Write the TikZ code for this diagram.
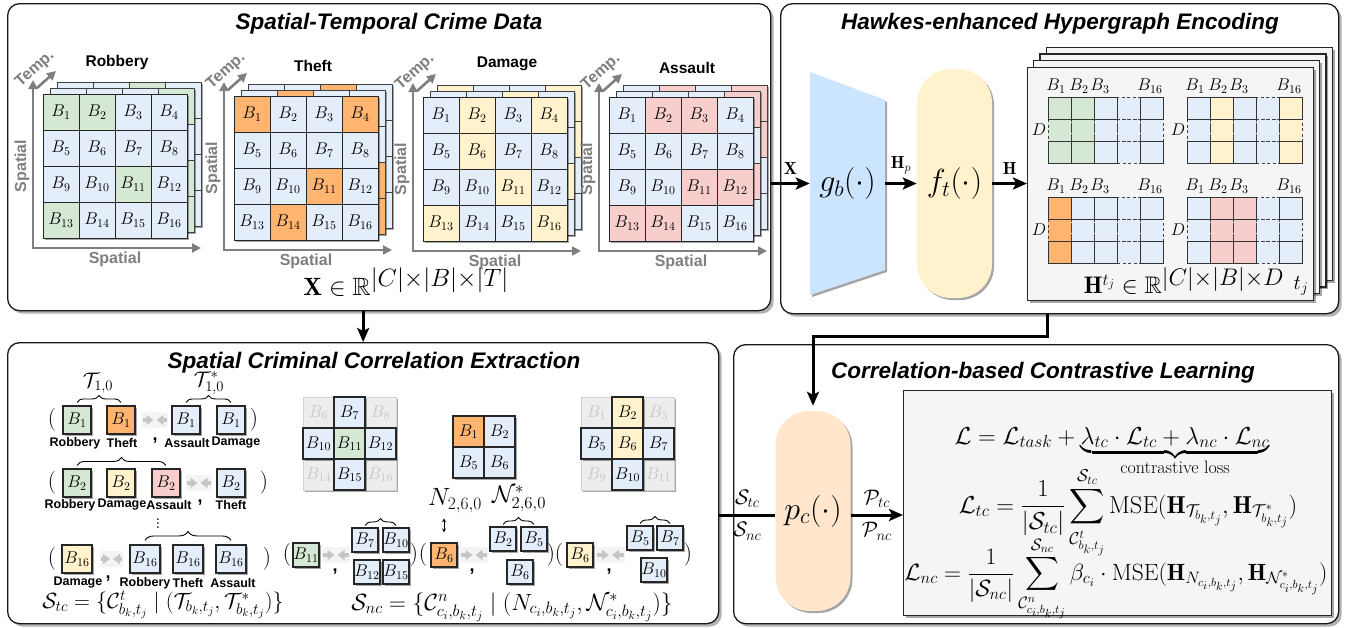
\RequirePackage{fix-cm}
\documentclass[tikz,border=0pt]{standalone}
\usepackage{fontspec}
\usepackage{amsmath,amssymb}
\newfontfamily\sansfam{Liberation Sans}
\usetikzlibrary{arrows.meta,calc,decorations.pathreplacing,shadows}

\definecolor{cblue}{HTML}{E3EEFA}
\definecolor{cgreen}{HTML}{D5E8D4}
\definecolor{corange}{HTML}{FFB570}
\definecolor{cyellow}{HTML}{FFF2CC}
\definecolor{cpink}{HTML}{F8CECC}
\definecolor{cpeach}{HTML}{FFE6CC}
\definecolor{cgb}{HTML}{CCE5FF}
\definecolor{axisgray}{HTML}{7F7F7F}
\definecolor{boxgray}{HTML}{F5F5F5}
\definecolor{fadefill}{HTML}{EDEDED}

\newcommand\fsz[1]{\fontsize{#1}{#1}\selectfont}
\newcommand\tx{\mathord{\times}}

\tikzset{
  softshadow/.style={drop shadow={shadow xshift=2pt,shadow yshift=-2pt,opacity=0.35,fill=black}},
  panel/.style={draw=black!90,line width=1.3pt,fill=white,rounded corners=12pt,inner sep=0pt,
    drop shadow={shadow xshift=3pt,shadow yshift=-3pt,opacity=0.3,fill=black}},
  ptitle/.style={font=\sansfam\bfseries\itshape\fsz{22.5},anchor=base,inner sep=0pt},
  gfill/.style={fill=cblue,softshadow},
  gline/.style={draw=black!75,line width=0.9pt},
  gcell/.style={draw=black!85,line width=1pt,minimum width=36pt,minimum height=36pt,inner sep=0pt,font=\fsz{17}},
  axisline/.style={draw=axisgray,line width=2.6pt,{Triangle[length=9pt,width=9pt]}-{Triangle[length=9pt,width=9pt]}},
  templine/.style={draw=axisgray,line width=2.6pt,-{Triangle[length=9pt,width=9pt]}},
  axislabel/.style={font=\sansfam\bfseries\fsz{16},text=axisgray,inner sep=0pt},
  gridtitle/.style={font=\sansfam\bfseries\fsz{15.5},inner sep=0pt},
  conn/.style={draw=black,line width=3pt,-{Stealth[length=14pt,width=12pt,inset=3pt]}},
  plainline/.style={draw=black,line width=3pt},
  arrlabel/.style={font=\fsz{17.5},inner sep=1pt},
  setlabel/.style={font=\fsz{21},inner sep=1pt},
  pill/.style={draw=none,rounded corners=34pt,inner sep=0pt,font=\fsz{32},softshadow},
  stacklayer/.style={draw=black!85,line width=1.2pt,fill=boxgray,softshadow},
  mdash/.style={draw=black!75,line width=0.9pt,dash pattern=on 3pt off 2.5pt},
  msolid/.style={draw=black!80,line width=1pt},
  mlabel/.style={font=\fsz{17},inner sep=0pt},
  sbox/.style={draw=black!85,line width=1.1pt,minimum width=28pt,minimum height=28pt,inner sep=0pt,font=\fsz{17},softshadow},
  wbox/.style={sbox,minimum width=30pt},
  tbox/.style={sbox,minimum width=26pt,minimum height=24pt,font=\fsz{17}},
  xbox/.style={sbox,minimum width=31pt,minimum height=31pt},
  fbox/.style={xbox,draw=gray!35,fill=fadefill,text=gray!45,line width=0.8pt},
  clabel/.style={font=\sansfam\bfseries\fsz{12.5},inner sep=0pt},
  paren/.style={font=\fsz{23},inner sep=0pt},
  commamark/.style={font=\sansfam\bfseries\fsz{18},inner sep=0pt},
  brc/.style={draw=black,line width=0.9pt,decorate,decoration={brace,amplitude=#1}},
  brc/.default=7pt,
  garrow/.style={draw=gray!45,line width=3.4pt,-{Triangle[length=7pt,width=10pt]}},
  gback/.style={fill=gray!9},
  mathlabel/.style={font=\fsz{21},inner sep=0pt},
  dblarrow/.style={draw=black,line width=1pt,{Stealth[length=4pt,width=4pt]}-{Stealth[length=4pt,width=4pt]},shorten <=5pt,shorten >=10pt},
  lossbox/.style={draw=black!85,line width=1.2pt,fill=boxgray,inner sep=0pt,softshadow},
  formula/.style={font=\fsz{24.5},inner sep=0pt,anchor=base},
}

% axes, time arrow and axis labels of one crime grid (#1,#2 = top-left corner of front layer)
\newcommand\axes[3]{%
  \draw[axisline] ({#1-10},{#2-14}) -- ({#1-10},{#2+154}) -- ({#1+158},{#2+154});
  \draw[templine] ({#1-6},{#2-6}) -- ({#1+13},{#2-23});
  \node[axislabel,rotate=42] (#3-t) at ({#1-8},{#2-25}) {Temp.};
  \node[axislabel,rotate=90] (#3-v) at ({#1-21},{#2+72}) {Spatial};
  \node[axislabel] (#3-h) at ({#1+72},{#2+165}) {Spatial};
}
% a hidden time slice behind the front grid
\newcommand\backgrid[4]{%
  \path[gfill] (#1,#2) rectangle ++(144,144);
  \foreach \r/\c in {#4}{\path[fill=#3] ({#1+(\c-1)*36},{#2+(\r-1)*36}) rectangle ++(36,36);}
  \foreach \r in {0,...,3}{\foreach \c in {0,...,3}{\path[gline] ({#1+\c*36},{#2+\r*36}) rectangle ++(36,36);}}
}
% the front time slice with its sixteen regions
\newcommand\frontgrid[5]{%
  \path[gfill] (#1,#2) rectangle ++(144,144);
  \foreach \r/\c in {#4}{\path[fill=#3] ({#1+(\c-1)*36},{#2+(\r-1)*36}) rectangle ++(36,36);}
  \foreach \r in {1,...,4}{\foreach \c in {1,...,4}{%
    \pgfmathtruncatemacro\cellno{(\r-1)*4+\c}%
    \node[gcell] (#5\cellno) at ({#1+(\c-0.5)*36},{#2+(\r-0.5)*36}) {$B_{\cellno}$};}}
}
% embedding matrix: 5 region columns x 3 feature rows
\newcommand\hmat[5]{%
  \foreach \c in {0,...,4}{\path[fill=cblue] ({#1+\c*23},#2) rectangle ++(23,66);}
  \foreach \c in {#4}{\path[fill=#3] ({#1+(\c-1)*23},#2) rectangle ++(23,66);}
  \foreach \r in {0,1,2}{\foreach \c in {0,...,4}{\path[mdash] ({#1+\c*23},{#2+\r*22}) rectangle ++(23,22);}}
  \foreach \r in {0,2}{\foreach \c in {0,1,2,4}{\path[msolid] ({#1+\c*23},{#2+\r*22}) rectangle ++(23,22);}}
  \node[mlabel] (#5b1) at ({#1+8},{#2-11}) {$B_1$};
  \node[mlabel] (#5b2) at ({#1+31},{#2-11}) {$B_2$};
  \node[mlabel] (#5b3) at ({#1+52},{#2-11}) {$B_3$};
  \node[mlabel] (#5b16) at ({#1+102},{#2-11}) {$B_{16}$};
  \node[mlabel] (#5d) at ({#1-9},{#2+33}) {$D$};
}
% pair of grey arrows pointing at each other
\newcommand\gpair[3]{%
  \coordinate (#3a) at #1;
  \coordinate (#3b) at #2;
  \path[gback] ($(#3a)+(-1,-8)$) rectangle ($(#3b)+(1,8)$);
  \coordinate (#3m) at ($(#3a)!0.5!(#3b)$);
  \draw[garrow] (#3a) -- ($(#3m)+(-1.5,0)$);
  \draw[garrow] (#3b) -- ($(#3m)+(1.5,0)$);
}

\begin{document}
\begin{tikzpicture}[x=1pt,y=-1pt]
\fill[white] (0,0) rectangle (1345,627);
\useasboundingbox (0,0) rectangle (1345,627);

% ---------- panels ----------
\node[panel,anchor=north west,minimum width=763pt,minimum height=307pt] (stdata) at (7,3) {};
\node[panel,anchor=north west,minimum width=558pt,minimum height=310pt] (hyper) at (780,3) {};
\node[panel,anchor=north west,minimum width=711pt,minimum height=281pt] (corr) at (7,342) {};
\node[panel,anchor=north west,minimum width=605pt,minimum height=279pt] (contr) at (733,344) {};

\node[ptitle] (stdata-t) at (389,29) {Spatial-Temporal Crime Data};
\node[ptitle] (hyper-t) at (1060,29) {Hawkes-enhanced Hypergraph Encoding};
\node[ptitle] (corr-t) at (374,368) {Spatial Criminal Correlation Extraction};
\node[ptitle] (contr-t) at (1043,378) {Correlation-based Contrastive Learning};

% ---------- spatial-temporal crime tensors ----------
\axes{43}{94}{rob}
\backgrid{57}{82}{cgreen}{1/3}
\backgrid{50}{88}{cgreen}{1/4,3/4,4/4}
\frontgrid{43}{94}{cgreen}{1/1,1/2,3/3,4/1}{rob}
\node[gridtitle] (rob-title) at (117,62) {Robbery};

\axes{234}{96}{thf}
\backgrid{248}{84}{corange}{1/3}
\backgrid{241}{90}{corange}{1/2,3/4,4/4}
\frontgrid{234}{96}{corange}{1/1,1/4,3/3,4/2}{thf}
\node[gridtitle] (thf-title) at (313,66) {Theft};

\axes{423}{97}{dmg}
\backgrid{437}{85}{cyellow}{1/1,1/4,2/4}
\backgrid{430}{91}{cyellow}{1/3,3/4}
\frontgrid{423}{97}{cyellow}{1/2,1/4,2/2,3/3,4/1,4/4}{dmg}
\node[gridtitle] (dmg-title) at (507,64) {Damage};

\axes{609}{97}{asl}
\backgrid{623}{85}{cpink}{1/2,1/4,2/4}
\backgrid{616}{91}{cpink}{1/4,3/4}
\frontgrid{609}{97}{cpink}{1/2,1/3,3/3,3/4,4/1,4/2}{asl}
\node[gridtitle] (asl-title) at (687,68) {Assault};

\node[font=\fsz{25},inner sep=0pt] (xform) at (406,282) {$\mathbf{X}\in\mathbb{R}^{\textstyle|C|\tx|B|\tx|T|}$};

% ---------- hypergraph encoder ----------
\path[fill=cgb,softshadow] (810,72) -- (885,100) -- (885,270) -- (810,295) -- cycle;
\node[font=\fsz{32},minimum width=75pt,minimum height=223pt,inner sep=0pt] (gb) at (847.5,183.5) {$g_b(\cdot)$};
\node[pill,fill=cyellow,minimum width=75pt,minimum height=229pt] (ft) at (954.5,183.5) {$f_t(\cdot)$};

\path[stacklayer] (1046.5,47.5) rectangle ++(286,233);
\path[stacklayer] (1040,54) rectangle ++(286,233);
\path[stacklayer] (1033.5,60.5) rectangle ++(286,233);
\node[stacklayer,anchor=north west,minimum width=286pt,minimum height=233pt,inner sep=0pt] (stack) at (1027,67) {};

\hmat{1048}{97}{cgreen}{1,2}{ha}
\hmat{1187}{97}{cyellow}{2,5}{hb}
\hmat{1048}{197}{corange}{1}{hc}
\hmat{1187}{197}{cpink}{2,3}{hd}
\node[font=\fsz{24},inner sep=0pt] (hform) at (1184,281) {$\mathbf{H}^{t_j}\in\mathbb{R}^{\textstyle|C|\tx|B|\tx D}$};
\node[mathlabel] (tjlab) at (1301,286) {$t_j$};

\draw[conn] (stdata.east |- gb.west) -- (gb.west) node[arrlabel,midway,above=7pt] (xlab) {$\mathbf{X}$};
\draw[conn] (gb.east) -- (ft.west) node[arrlabel,midway,above=7pt] (hplab) {$\mathbf{H}_p$};
\draw[conn] (ft.east) -- (stack.west |- ft.east) node[arrlabel,midway,above=7pt] (hlab) {$\mathbf{H}$};

% ---------- type correlations ----------
\node[paren] (r1l) at (52,420) {(};
\node[sbox,fill=cgreen] (t1a) at (77,420) {$B_1$};
\node[sbox,fill=corange] (t1b) at (121,420) {$B_1$};
\node[sbox,fill=cblue] (t1c) at (186,420) {$B_1$};
\node[sbox,fill=cblue] (t1d) at (231,420) {$B_1$};
\node[paren] (r1r) at (254,420) {)};
\gpair{($(t1b.east)+(7,0)$)}{($(t1c.west)+(-4,0)$)}{ga}
\draw[brc] ($(t1a.north)+(0,-3)$) -- ($(t1b.north)+(0,-3)$);
\draw[brc] ($(t1c.north)+(0,-3)$) -- ($(t1d.north)+(0,-3)$);
\node[mathlabel] (tau1) at (98,383) {$\mathcal{T}_{1,0}$};
\node[mathlabel] (tau1s) at (209,383) {$\mathcal{T}^*_{1,0}$};
\node[clabel] (r1c1) at (75,443) {Robbery};
\node[clabel] (r1c2) at (122,443) {Theft};
\node[commamark] (r1cm) at (155,441) {,};
\node[clabel] (r1c3) at (187,443) {Assault};
\node[clabel] (r1c4) at (236,443) {Damage};

\node[paren] (r2l) at (52,483) {(};
\node[sbox,fill=cgreen] (t2a) at (77,483) {$B_2$};
\node[sbox,fill=cyellow] (t2b) at (121,483) {$B_2$};
\node[sbox,fill=cpink] (t2c) at (166,483) {$B_2$};
\node[sbox,fill=cblue] (t2d) at (231,483) {$B_2$};
\node[paren] (r2r) at (264,483) {)};
\gpair{($(t2c.east)+(6,0)$)}{($(t2d.west)+(-5,0)$)}{gb2}
\draw[brc=8pt] ($(t2a.north)+(0,-3)$) -- ($(t2c.north)+(0,-3)$);
\node[clabel] (r2c1) at (70,505) {Robbery};
\node[clabel] (r2c2) at (122,505) {Damage};
\node[clabel] (r2c3) at (169,505) {Assault};
\node[commamark] (r2cm) at (200,503) {,};
\node[clabel] (r2c4) at (231,505) {Theft};

\node[font=\fsz{21},inner sep=0pt] (vdots) at (158,521) {$\vdots$};

\node[paren] (r3l) at (52,559) {(};
\node[wbox,fill=cyellow] (t3a) at (77,559) {$B_{16}$};
\node[wbox,fill=cblue] (t3b) at (145,559) {$B_{16}$};
\node[wbox,fill=cblue] (t3c) at (188,559) {$B_{16}$};
\node[wbox,fill=cblue] (t3d) at (231,559) {$B_{16}$};
\node[paren] (r3r) at (267,559) {)};
\gpair{($(t3a.east)+(8,0)$)}{($(t3b.west)+(-7,0)$)}{gc}
\draw[brc=9pt] ($(t3b.north)+(0,-4)$) -- ($(t3d.north)+(0,-4)$);
\node[clabel] (r3c1) at (78,583) {Damage};
\node[commamark] (r3cm) at (108,579) {,};
\node[clabel] (r3c2) at (145,583) {Robbery};
\node[clabel] (r3c3) at (188,583) {Theft};
\node[clabel] (r3c4) at (233,583) {Assault};

\node[font=\fsz{22},inner sep=0pt] (stc) at (163,605) {$\mathcal{S}_{tc}=\{\mathcal{C}^{t}_{b_k,t_j}\mid(\mathcal{T}_{b_k,t_j},\mathcal{T}^*_{b_k,t_j})\}$};

% ---------- neighbourhood correlations ----------
\node[fbox] (ca6) at (318.5,412.5) {$B_6$};
\node[fbox] (ca8) at (380.5,412.5) {$B_8$};
\node[fbox] (ca14) at (318.5,474.5) {$B_{14}$};
\node[fbox] (ca16) at (380.5,474.5) {$B_{16}$};
\node[xbox,fill=cblue] (ca7) at (349.5,412.5) {$B_7$};
\node[xbox,fill=cblue] (ca10) at (318.5,443.5) {$B_{10}$};
\node[xbox,fill=cgreen] (ca11) at (349.5,443.5) {$B_{11}$};
\node[xbox,fill=cblue] (ca12) at (380.5,443.5) {$B_{12}$};
\node[xbox,fill=cblue] (ca15) at (349.5,474.5) {$B_{15}$};

\node[xbox,fill=corange] (cb1) at (468.5,431.5) {$B_1$};
\node[xbox,fill=cblue] (cb2) at (499.5,431.5) {$B_2$};
\node[xbox,fill=cblue] (cb5) at (468.5,462.5) {$B_5$};
\node[xbox,fill=cblue] (cb6) at (499.5,462.5) {$B_6$};

\node[fbox] (cc1) at (596.5,412.5) {$B_1$};
\node[fbox] (cc3) at (658.5,412.5) {$B_3$};
\node[fbox] (cc9) at (596.5,474.5) {$B_9$};
\node[fbox] (cc11) at (658.5,474.5) {$B_{11}$};
\node[xbox,fill=cyellow] (cc2) at (627.5,412.5) {$B_2$};
\node[xbox,fill=cblue] (cc5) at (596.5,443.5) {$B_5$};
\node[xbox,fill=cyellow] (cc6) at (627.5,443.5) {$B_6$};
\node[xbox,fill=cblue] (cc7) at (658.5,443.5) {$B_7$};
\node[xbox,fill=cblue] (cc10) at (627.5,474.5) {$B_{10}$};

\node[paren] (s1l) at (287,555) {(};
\node[tbox,fill=cgreen] (u11) at (306,555) {$B_{11}$};
\node[tbox,fill=cblue] (n7) at (365,540) {$B_7$};
\node[tbox,fill=cblue] (n10) at (396,540) {$B_{10}$};
\node[tbox,fill=cblue] (n12) at (367,572) {$B_{12}$};
\node[tbox,fill=cblue] (n15) at (396,572) {$B_{15}$};
\draw[brc] ($(n7.north)+(0,-2)$) -- ($(n10.north)+(0,-2)$);
\gpair{($(u11.east)+(3,0)$)}{($(n7.west |- u11.east)+(-2,0)$)}{gd}
\node[commamark] (cm4) at (335,572) {,};
\node[paren] (s1r) at (414,555) {)};

\node[paren] (s2l) at (423,555) {(};
\node[tbox,fill=corange] (u6o) at (444,555) {$B_6$};
\node[mathlabel,font=\fsz{25}] (nlab) at (455,501) {$N_{2,6,0}$};
\draw[dblarrow] (nlab.south -| u6o.north) -- (u6o.north);
\node[tbox,fill=cblue] (q2) at (503,539) {$B_2$};
\node[tbox,fill=cblue] (q5) at (534,539) {$B_5$};
\node[tbox,fill=cblue] (q6) at (520,572) {$B_6$};
\draw[brc] ($(q2.north)+(0,-2)$) -- ($(q5.north)+(0,-2)$);
\node[mathlabel,font=\fsz{24}] (nslab) at (519,499) {$\mathcal{N}^*_{2,6,0}$};
\gpair{($(u6o.east)+(3,0)$)}{($(q2.west |- u6o.east)+(-2,0)$)}{ge}
\node[commamark] (cm5) at (472,572) {,};
\node[paren] (s2r) at (551,555) {)};

\node[paren] (s3l) at (559,555) {(};
\node[tbox,fill=cyellow] (u6y) at (580,555) {$B_6$};
\node[tbox,fill=cblue] (r5) at (640,538) {$B_5$};
\node[tbox,fill=cblue] (r7) at (670,538) {$B_7$};
\node[tbox,fill=cblue] (r10) at (654,570) {$B_{10}$};
\draw[brc] ($(r5.north)+(0,-2)$) -- ($(r7.north)+(0,-2)$);
\gpair{($(u6y.east)+(3,0)$)}{($(r5.west |- u6y.east)+(-2,0)$)}{gf}
\node[commamark] (cm6) at (609,572) {,};
\node[paren] (s3r) at (688,555) {)};

\node[font=\fsz{23.5},inner sep=0pt] (snc) at (512,607) {$\mathcal{S}_{nc}=\{\mathcal{C}^{n}_{c_i,b_k,t_j}\mid(N_{c_i,b_k,t_j},\mathcal{N}^*_{c_i,b_k,t_j})\}$};

% ---------- contrastive learning ----------
\node[pill,fill=cpeach,minimum width=75pt,minimum height=200pt] (pc) at (813,511) {$p_c(\cdot)$};
\node[lossbox,anchor=north west,minimum width=428pt,minimum height=225pt] (loss) at (903,390) {};

\node[formula] (l1) at (1112,444) {$\mathcal{L}=\mathcal{L}_{task}+\underbrace{\lambda_{tc}\cdot\mathcal{L}_{tc}+\lambda_{nc}\cdot\mathcal{L}_{nc}}_{\text{\fsz{18}contrastive loss}}$};
\node[formula] (l2) at (1128,513) {$\displaystyle\mathcal{L}_{tc}=\frac{1}{|\mathcal{S}_{tc}|}\sum_{\mathcal{C}^{t}_{b_k,t_j}}^{\mathcal{S}_{tc}}\mathrm{MSE}(\mathbf{H}_{\mathcal{T}_{b_k,t_j}},\mathbf{H}_{\mathcal{T}^*_{b_k,t_j}})$};
\node[formula,font=\fsz{23.5}] (l3) at (1116,580) {$\displaystyle\mathcal{L}_{nc}=\frac{1}{|\mathcal{S}_{nc}|}\sum_{\mathcal{C}^{n}_{c_i,b_k,t_j}}^{\mathcal{S}_{nc}}\beta_{c_i}\cdot\mathrm{MSE}(\mathbf{H}_{N_{c_i,b_k,t_j}},\mathbf{H}_{\mathcal{N}^*_{c_i,b_k,t_j}})$};

% ---------- connectors between stages ----------
\draw[conn] (stdata.south -| corr.north) -- (corr.north);
\draw[conn] ($(hyper.south)+(-12,0)$) -- ++(0,22) -| ([yshift=5pt]pc.north);
\draw[plainline] (corr.east |- 0,515) -- (pc.west |- 0,515)
  node[setlabel,midway,above=5pt] (stclab) {$\mathcal{S}_{tc}$}
  node[setlabel,midway,below=5pt] (snclab) {$\mathcal{S}_{nc}$};
\draw[conn] (pc.east |- 0,515) -- (loss.west |- 0,515)
  node[setlabel,midway,above=5pt] (ptclab) {$\mathcal{P}_{tc}$}
  node[setlabel,midway,below=5pt] (pnclab) {$\mathcal{P}_{nc}$};
\end{tikzpicture}
\end{document}
